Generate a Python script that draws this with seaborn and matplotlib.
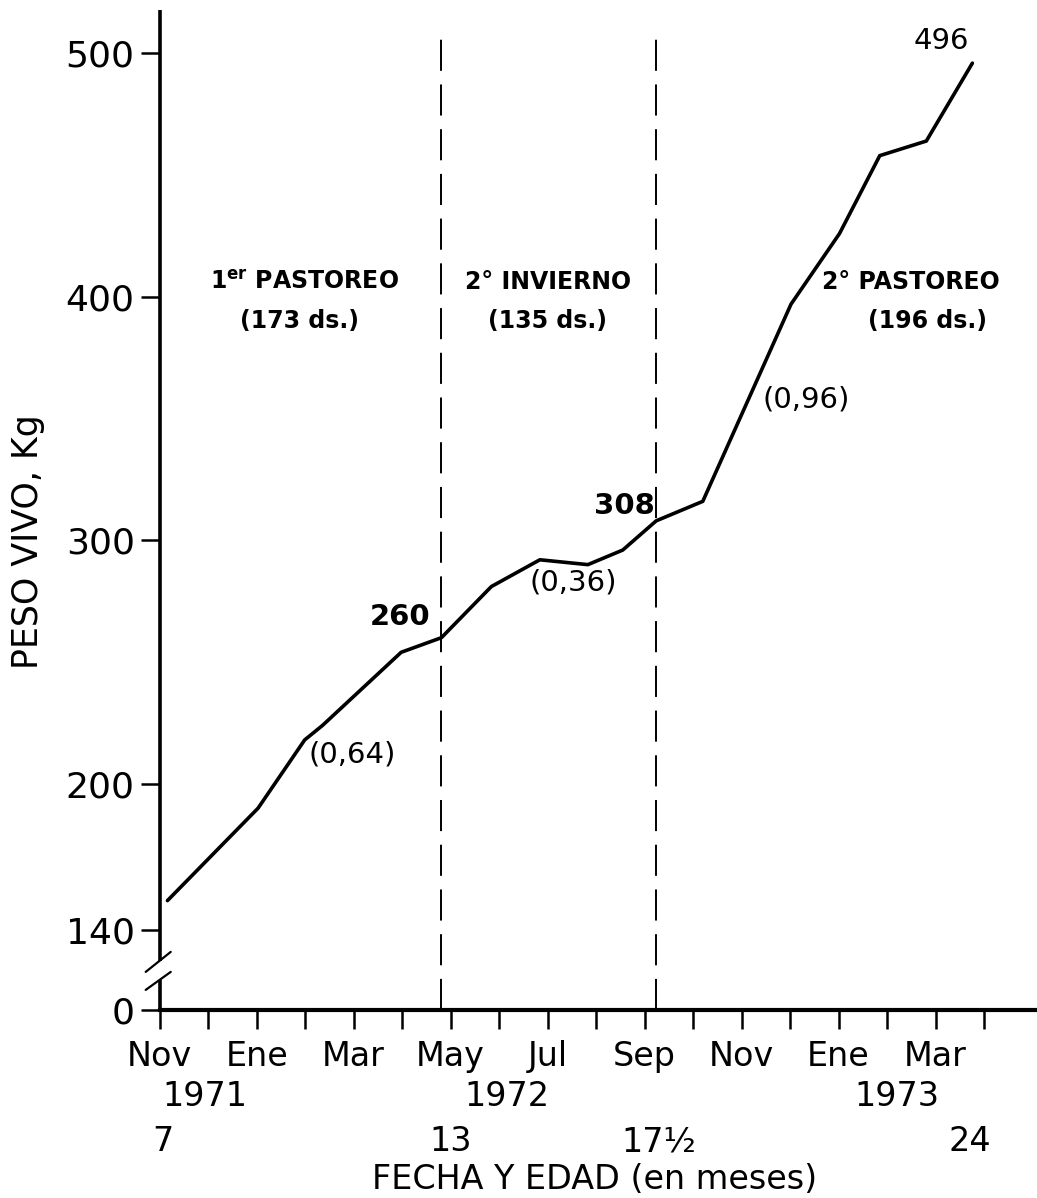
import numpy as np
import pandas as pd
import matplotlib
matplotlib.use("Agg")
import matplotlib.pyplot as plt
import matplotlib.transforms as mtransforms
import seaborn as sns

# ---------------- data ----------------
months = [0.16, 2.03, 2.99, 3.36, 4.98, 5.81, 6.84, 7.84, 8.83, 9.55,
          10.24, 11.20, 13.02, 14.02, 14.85, 15.81, 16.76]
weights = [152, 190, 218, 224, 254, 260, 281, 292, 290, 296,
           308, 316, 397, 426, 458, 464, 496]
period_bounds = [5.81, 10.24]
month_ticks = list(range(18))
month_labels = ["Nov", "", "Ene", "", "Mar", "", "May", "", "Jul", "",
                "Sep", "", "Nov", "", "Ene", "", "Mar", ""]
year_labels = ["1971", "1972", "1973"]
year_pos = [0.93, 7.16, 15.2]
age_labels = ["7", "13", "17½", "24"]
age_pos = [0.06, 6.0, 10.3, 16.7]
y_ticks = [140, 200, 300, 400, 500]
ZERO_POS = 107.1  # where the broken axis shows "0"

period_titles = [r"$\mathbf{1^{er}}$ PASTOREO", "2° INVIERNO", "2° PASTOREO"]
period_days = ["(173 ds.)", "(135 ds.)", "(196 ds.)"]
period_title_x = [2.99, 8.0, 15.5]
period_days_x = [2.89, 8.0, 15.84]
rate_labels = ["(0,64)", "(0,36)", "(0,96)"]
rate_x = [3.98, 8.52, 13.34]
rate_y = [212, 282.7, 357.9]
value_labels = ["260", "308", "496"]
value_x = [4.95, 9.59, 16.12]
value_y = [268.4, 314, 505]

# ---------------- style ----------------
sns.set_style("white")
plt.rcParams['font.family'] = ['DejaVu Sans']
plt.rcParams['text.color'] = 'black'
plt.rcParams['axes.labelcolor'] = 'black'
plt.rcParams['xtick.color'] = 'black'
plt.rcParams['ytick.color'] = 'black'

fig = plt.figure(figsize=(10.37, 11.98), dpi=100)
ax = fig.add_axes([0.154, 0.157, 0.844, 0.835])

df = pd.DataFrame({"mes": months, "peso": weights})
sns.lineplot(data=df, x="mes", y="peso", ax=ax, color="black", lw=2.6)

ax.set_xlim(0, 18.05)
ax.set_ylim(ZERO_POS, 518)

# dashed period separators
for b in period_bounds:
    ax.plot([b, b], [ZERO_POS, 510.5], color="black", lw=1.4,
            linestyle=(0, (16, 7)), clip_on=False)

# spines
for s in ["top", "right", "left"]:
    ax.spines[s].set_visible(False)
ax.spines["bottom"].set_linewidth(3)
ax.spines["bottom"].set_color("black")

# broken left axis
ytrans = mtransforms.blended_transform_factory(ax.transAxes, ax.transData)
ax.plot([0, 0], [ZERO_POS, 119.5], color="black", lw=2.6, transform=ytrans,
        clip_on=False, solid_capstyle="butt")
ax.plot([0, 0], [127.3, 518], color="black", lw=2.6, transform=ytrans,
        clip_on=False, solid_capstyle="butt")
ax.plot([-0.016, 0.0126], [0.038, 0.058], color="black", lw=1.6,
        transform=ax.transAxes, clip_on=False)
ax.plot([-0.016, 0.0126], [0.020, 0.038], color="black", lw=1.6,
        transform=ax.transAxes, clip_on=False)

# ticks
ax.set_yticks([ZERO_POS] + y_ticks)
ax.set_yticklabels(["0"] + [str(t) for t in y_ticks])
ax.set_xticks(month_ticks)
ax.set_xticklabels(month_labels)
ax.tick_params(axis="y", direction="out", length=14, width=1.8, left=True,
               labelsize=26, pad=4, colors="black")
ax.tick_params(axis="x", direction="out", length=14, width=1.8, bottom=True,
               labelsize=24, pad=8, colors="black")
ax.set_xlabel("")
ax.set_ylabel("")

# years and ages under the axis
xtrans = mtransforms.blended_transform_factory(ax.transData, ax.transAxes)
for lab, x in zip(year_labels, year_pos):
    ax.text(x, -0.087, lab, transform=xtrans, ha="center", va="center",
            fontsize=24, color="black")
for lab, x in zip(age_labels, age_pos):
    ax.text(x, -0.132, lab, transform=xtrans, ha="center", va="center",
            fontsize=24, color="black")
ax.text(0.497, -0.170, "FECHA Y EDAD (en meses)", transform=ax.transAxes,
        ha="center", va="center", fontsize=24, color="black")
ax.text(-0.15, 0.468, "PESO VIVO, Kg", transform=ax.transAxes, rotation=90,
        ha="center", va="center", fontsize=25, color="black")

# annotations
for t, d, tx, dx in zip(period_titles, period_days, period_title_x, period_days_x):
    ax.text(tx, 406, t, ha="center", va="center", fontsize=17,
            fontweight="bold", color="black")
    ax.text(dx, 390, d, ha="center", va="center", fontsize=17,
            fontweight="bold", color="black")
for lab, x, y in zip(rate_labels, rate_x, rate_y):
    ax.text(x, y, lab, ha="center", va="center", fontsize=21, color="black")
for lab, x, y in zip(value_labels, value_x, value_y):
    ax.text(x, y, lab, ha="center", va="center", fontsize=21, color="black",
            fontweight="bold" if lab != "496" else "normal")

fig.savefig("out.png", dpi=100)
